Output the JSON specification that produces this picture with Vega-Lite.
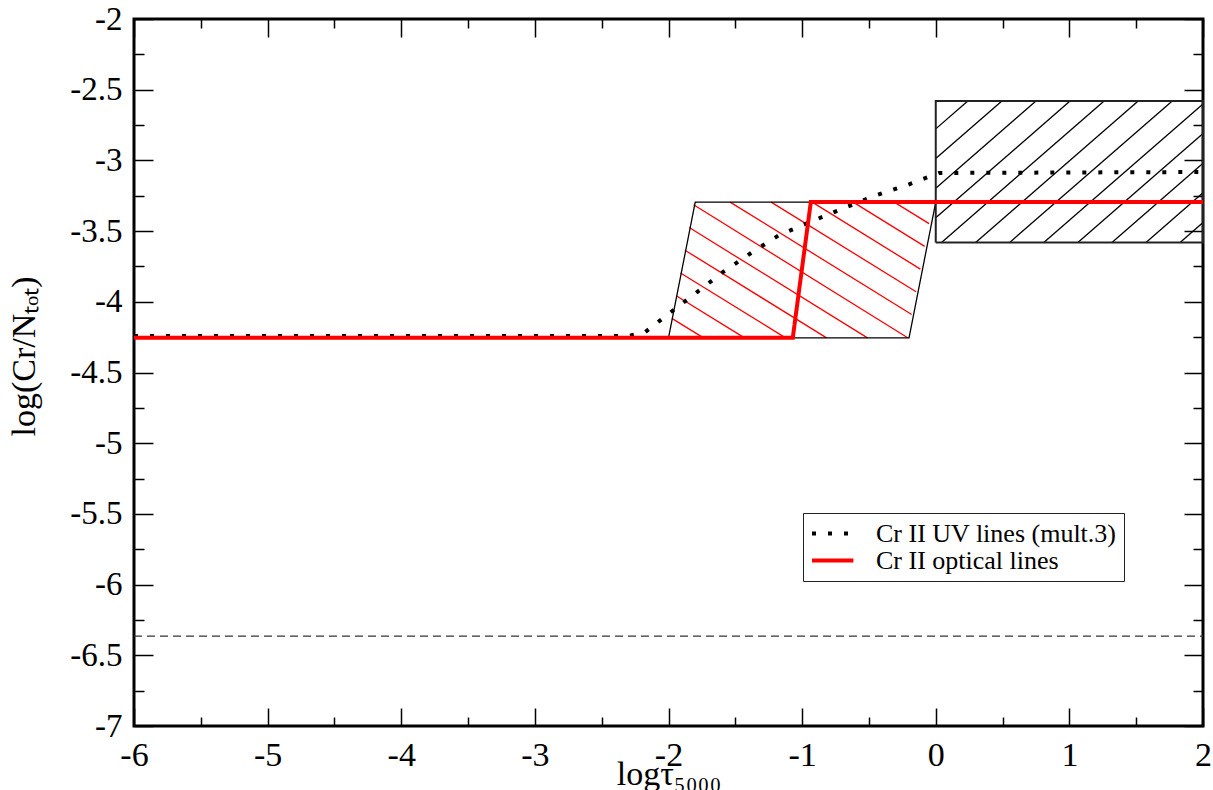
{
  "$schema": "https://vega.github.io/schema/vega-lite/v6.json",
  "width": 1069,
  "height": 707,
  "autosize": "none",
  "padding": {"left": 134, "top": 19, "right": 10, "bottom": 64},
  "background": "white",
  "config": {
    "font": "Liberation Serif",
    "view": {"stroke": "black", "strokeWidth": 3},
    "axis": {"labelFont": "Liberation Serif", "titleFont": "Liberation Serif", "labelColor": "black", "titleColor": "black", "titleFontWeight": "normal", "domain": false, "grid": false, "tickColor": "black", "tickWidth": 1.5, "labelOverlap": false, "labelFlush": false}
  },
  "datasets": {
    "redhatch": [
      {"x": -1.975, "y": -4.117, "x2": -1.738, "y2": -4.255},
      {"x": -1.942, "y": -3.957, "x2": -1.431, "y2": -4.255},
      {"x": -1.910, "y": -3.796, "x2": -1.124, "y2": -4.255},
      {"x": -1.877, "y": -3.635, "x2": -0.817, "y2": -4.255},
      {"x": -1.845, "y": -3.475, "x2": -0.511, "y2": -4.255},
      {"x": -1.812, "y": -3.314, "x2": -0.210, "y2": -4.254},
      {"x": -1.539, "y": -3.295, "x2": -0.180, "y2": -4.090},
      {"x": -1.232, "y": -3.295, "x2": -0.147, "y2": -3.929},
      {"x": -0.925, "y": -3.295, "x2": -0.115, "y2": -3.769},
      {"x": -0.618, "y": -3.295, "x2": -0.083, "y2": -3.608},
      {"x": -0.311, "y": -3.295, "x2": -0.050, "y2": -3.447}
    ],
    "blackhatch": [
      {"x": 0, "y": -2.777, "x2": 0.24, "y2": -2.58},
      {"x": 0, "y": -2.987, "x2": 0.495, "y2": -2.58},
      {"x": 0, "y": -3.197, "x2": 0.75, "y2": -2.58},
      {"x": 0, "y": -3.406, "x2": 1.005, "y2": -2.58},
      {"x": 0.0435, "y": -3.58, "x2": 1.26, "y2": -2.58},
      {"x": 0.2985, "y": -3.58, "x2": 1.515, "y2": -2.58},
      {"x": 0.5535, "y": -3.58, "x2": 1.77, "y2": -2.58},
      {"x": 0.8085, "y": -3.58, "x2": 2, "y2": -2.601},
      {"x": 1.0635, "y": -3.58, "x2": 2, "y2": -2.81},
      {"x": 1.3185, "y": -3.58, "x2": 2, "y2": -3.02},
      {"x": 1.5735, "y": -3.58, "x2": 2, "y2": -3.229},
      {"x": 1.8285, "y": -3.58, "x2": 2, "y2": -3.439}
    ],
    "para": [
      {"i": 0, "x": -2.0, "y": -4.255},
      {"i": 1, "x": -1.8, "y": -3.295},
      {"i": 2, "x": 0.0, "y": -3.295},
      {"i": 3, "x": -0.2, "y": -4.255},
      {"i": 4, "x": -2.0, "y": -4.255}
    ],
    "rect": [
      {"i": 0, "x": 0, "y": -3.58},
      {"i": 1, "x": 0, "y": -2.58},
      {"i": 2, "x": 2, "y": -2.58},
      {"i": 3, "x": 2, "y": -3.58},
      {"i": 4, "x": 0, "y": -3.58}
    ],
    "dashed": [{"x": -6, "x2": 2, "y": -6.365}],
    "curves": [
      {"series": "Cr II UV lines (mult.3)", "i": 0, "x": -6, "y": -4.242},
      {"series": "Cr II UV lines (mult.3)", "i": 1, "x": -2.3, "y": -4.242},
      {"series": "Cr II UV lines (mult.3)", "i": 2, "x": -2.175, "y": -4.214},
      {"series": "Cr II UV lines (mult.3)", "i": 3, "x": -1.981, "y": -4.072},
      {"series": "Cr II UV lines (mult.3)", "i": 4, "x": -1.786, "y": -3.931},
      {"series": "Cr II UV lines (mult.3)", "i": 5, "x": -1.591, "y": -3.789},
      {"series": "Cr II UV lines (mult.3)", "i": 6, "x": -1.382, "y": -3.655},
      {"series": "Cr II UV lines (mult.3)", "i": 7, "x": -1.172, "y": -3.528},
      {"series": "Cr II UV lines (mult.3)", "i": 8, "x": -0.813, "y": -3.386},
      {"series": "Cr II UV lines (mult.3)", "i": 9, "x": -0.461, "y": -3.252},
      {"series": "Cr II UV lines (mult.3)", "i": 10, "x": -0.214, "y": -3.174},
      {"series": "Cr II UV lines (mult.3)", "i": 11, "x": 0.025, "y": -3.089},
      {"series": "Cr II UV lines (mult.3)", "i": 12, "x": 2, "y": -3.082},
      {"series": "Cr II optical lines", "i": 0, "x": -6, "y": -4.255},
      {"series": "Cr II optical lines", "i": 1, "x": -1.07, "y": -4.255},
      {"series": "Cr II optical lines", "i": 2, "x": -0.935, "y": -3.295},
      {"series": "Cr II optical lines", "i": 3, "x": 2, "y": -3.295}
    ]
  },
  "resolve": {"axis": {"x": "independent", "y": "independent"}},
  "layer": [
    {
      "data": {"name": "redhatch"},
      "mark": {"type": "rule", "color": "#ff0000", "strokeWidth": 1.3},
      "encoding": {
        "x": {"field": "x", "type": "quantitative", "scale": {"domain": [-6, 2], "nice": false, "zero": false},
          "axis": {"orient": "bottom", "values": [-6, -5.5, -5, -4.5, -4, -3.5, -3, -2.5, -2, -1.5, -1, -0.5, 0, 0.5, 1, 1.5, 2],
            "labelExpr": "datum.value % 1 === 0 ? datum.value + '' : ''",
            "tickSize": {"condition": {"test": "datum.value % 1 === 0", "value": -18}, "value": -9},
            "labelFont": "Liberation Serif", "titleFont": "Liberation Serif",
            "labelPadding": 30, "labelFontSize": 34, "title": "logτ₅₀₀₀", "titleFontSize": 34, "titleBaseline": "alphabetic", "titleY": 58}},
        "y": {"field": "y", "type": "quantitative", "scale": {"domain": [-7, -2], "nice": false, "zero": false},
          "axis": {"orient": "left", "values": [-7, -6.75, -6.5, -6.25, -6, -5.75, -5.5, -5.25, -5, -4.75, -4.5, -4.25, -4, -3.75, -3.5, -3.25, -3, -2.75, -2.5, -2.25, -2],
            "labelExpr": "datum.value % 0.5 === 0 ? datum.value + '' : ''",
            "tickSize": {"condition": {"test": "datum.value % 0.5 === 0", "value": -19}, "value": -10},
            "labelFont": "Liberation Serif", "titleFont": "Liberation Serif",
            "labelPadding": 31, "labelFontSize": 33, "title": "log(Cr/Nₜₒₜ)", "titleFontSize": 34, "titlePadding": 28, "titleY": 337}},
        "x2": {"field": "x2"},
        "y2": {"field": "y2"}
      }
    },
    {
      "data": {"name": "blackhatch"},
      "mark": {"type": "rule", "color": "#000000", "strokeWidth": 1.3},
      "encoding": {
        "x": {"field": "x", "type": "quantitative",
          "axis": {"orient": "top", "values": [-6, -5.5, -5, -4.5, -4, -3.5, -3, -2.5, -2, -1.5, -1, -0.5, 0, 0.5, 1, 1.5, 2],
            "labels": false, "title": null,
            "tickSize": {"condition": {"test": "datum.value % 1 === 0", "value": -18}, "value": -9}}},
        "y": {"field": "y", "type": "quantitative",
          "axis": {"orient": "right", "values": [-7, -6.75, -6.5, -6.25, -6, -5.75, -5.5, -5.25, -5, -4.75, -4.5, -4.25, -4, -3.75, -3.5, -3.25, -3, -2.75, -2.5, -2.25, -2],
            "labels": false, "title": null,
            "tickSize": {"condition": {"test": "datum.value % 0.5 === 0", "value": -19}, "value": -10}}},
        "x2": {"field": "x2"},
        "y2": {"field": "y2"}
      }
    },
    {
      "data": {"name": "para"},
      "mark": {"type": "line", "color": "#000000", "strokeWidth": 1.3},
      "encoding": {
        "x": {"field": "x", "type": "quantitative", "axis": null},
        "y": {"field": "y", "type": "quantitative", "axis": null},
        "order": {"field": "i"}
      }
    },
    {
      "data": {"name": "rect"},
      "mark": {"type": "line", "color": "#222222", "strokeWidth": 2},
      "encoding": {
        "x": {"field": "x", "type": "quantitative", "axis": null},
        "y": {"field": "y", "type": "quantitative", "axis": null},
        "order": {"field": "i"}
      }
    },
    {
      "data": {"name": "dashed"},
      "mark": {"type": "rule", "color": "#333333", "strokeWidth": 1.2, "strokeDash": [8, 5]},
      "encoding": {
        "x": {"field": "x", "type": "quantitative", "axis": null},
        "x2": {"field": "x2"},
        "y": {"field": "y", "type": "quantitative", "axis": null}
      }
    },
    {
      "data": {"name": "curves"},
      "mark": {"type": "line", "strokeWidth": 4, "strokeCap": "butt"},
      "encoding": {
        "x": {"field": "x", "type": "quantitative", "axis": null},
        "y": {"field": "y", "type": "quantitative", "axis": null},
        "order": {"field": "i"},
        "color": {"field": "series", "type": "nominal",
          "scale": {"domain": ["Cr II UV lines (mult.3)", "Cr II optical lines"], "range": ["#000000", "#ff0000"]},
          "legend": {"orient": "none", "legendX": 669, "legendY": 494, "title": null, "strokeColor": "#222222", "fillColor": "white", "padding": 7,
            "symbolType": "M-1,0H2.6", "symbolSize": 529, "symbolStrokeWidth": 4, "symbolFillColor": "transparent", "labelFont": "Liberation Serif", "labelFontSize": 26, "labelColor": "black", "labelOffset": 39, "rowPadding": 0, "labelLimit": 400}},
        "strokeDash": {"field": "series", "type": "nominal",
          "scale": {"domain": ["Cr II UV lines (mult.3)", "Cr II optical lines"], "range": [[4, 12], [1, 0]]},
          "legend": {"orient": "none", "legendX": 669, "legendY": 494, "title": null, "strokeColor": "#222222", "fillColor": "white", "padding": 7,
            "symbolType": "M-1,0H2.6", "symbolSize": 529, "symbolStrokeWidth": 4, "symbolFillColor": "transparent", "labelFont": "Liberation Serif", "labelFontSize": 26, "labelColor": "black", "labelOffset": 39, "rowPadding": 0, "labelLimit": 400}}
      }
    }
  ]
}
